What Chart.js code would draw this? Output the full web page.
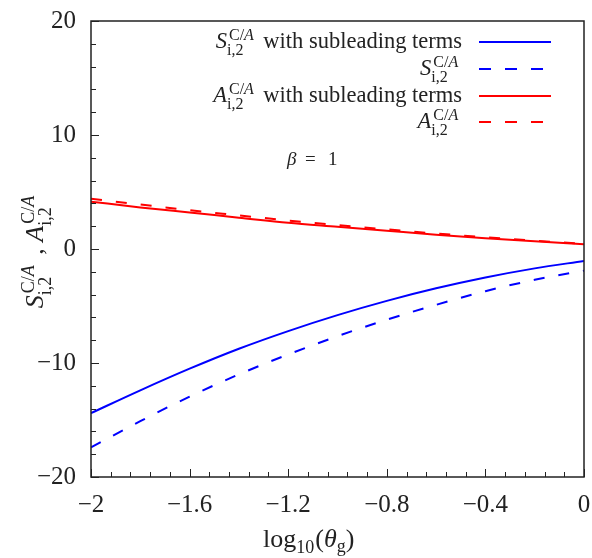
<!DOCTYPE html>
<html><head><meta charset="utf-8">
<script src="https://cdn.jsdelivr.net/npm/chart.js@4.4.0/dist/chart.umd.min.js"></script>
<style>html,body{margin:0;padding:0;background:#fff}#wrap{width:592px;height:558px}</style>
</head><body><div id="wrap"><canvas id="c" width="592" height="558"></canvas></div>
<script>
const xVals = [-2, -1.8, -1.6, -1.4, -1.2, -1.0, -0.8, -0.6, -0.4, -0.2, 0];
const sWithSub = [-14.4, -12.4, -10.5, -8.75, -7.2, -5.8, -4.55, -3.45, -2.5, -1.7, -1.05];
const sLead = [-17.4, -15.1, -12.95, -11.0, -9.25, -7.65, -6.2, -4.9, -3.7, -2.7, -1.9];
const aWithSub = [4.15, 3.65, 3.2, 2.75, 2.3, 1.95, 1.6, 1.25, 0.95, 0.68, 0.42];
const aLead = [4.4, 3.9, 3.4, 2.95, 2.5, 2.1, 1.72, 1.36, 1.03, 0.73, 0.45];
const xTicks = [-2, -1.6, -1.2, -0.8, -0.4, 0];
const yTicks = [-20, -10, 0, 10, 20];
const seriesNames = ["S with subleading terms", "S", "A with subleading terms", "A"];

const SERIF = "'Liberation Serif', 'DejaVu Serif', serif";
const toPts = arr => arr.map((v, i) => ({x: xVals[i], y: v}));
const fmt = v => { const r = Math.round(v * 10) / 10; return r < 0 ? '\u2212' + Math.abs(r) : String(r); };

function mathWidth(ctx, base, B, S) {
  ctx.font = 'italic ' + B + 'px ' + SERIF; const bw = ctx.measureText(base).width;
  ctx.font = S + 'px ' + SERIF; const sup = ctx.measureText('C/A').width + 2; const sub = ctx.measureText('i,2').width;
  return bw + Math.max(sup, sub) + 2;
}
function drawMath(ctx, base, x, y, B, S) {
  ctx.textAlign = 'left'; ctx.textBaseline = 'alphabetic';
  ctx.font = 'italic ' + B + 'px ' + SERIF; ctx.fillText(base, x, y);
  const bw = ctx.measureText(base).width;
  const up = Math.round(B * 0.36), down = Math.round(B * 0.31);
  let sx = x + bw + 2;
  ctx.font = S + 'px ' + SERIF; ctx.fillText('C/', sx, y - up);
  const cw = ctx.measureText('C/').width;
  ctx.font = 'italic ' + S + 'px ' + SERIF; ctx.fillText('A', sx + cw, y - up);
  ctx.font = S + 'px ' + SERIF; ctx.fillText('i,2', x + bw, y + down);
}

const decor = {
  id: 'decor',
  afterDraw(chart) {
    const ctx = chart.ctx, xs = chart.scales.x, ys = chart.scales.y, ca = chart.chartArea;
    ctx.save();
    ctx.strokeStyle = '#222'; ctx.lineWidth = 1.5;
    ctx.strokeRect(ca.left, ca.top, ca.right - ca.left, ca.bottom - ca.top);
    ctx.lineWidth = 1;
    ctx.beginPath();
    for (let i = 0; i <= 25; i++) {
      const v = -2 + i * 0.08; const px = Math.round(xs.getPixelForValue(v)) + 0.5;
      const major = i % 5 === 0; const L = major ? 8 : 5;
      ctx.moveTo(px, ca.bottom); ctx.lineTo(px, ca.bottom - L);
    }
    for (let v = -20; v <= 20; v += 2) {
      const py = Math.round(ys.getPixelForValue(v)) + 0.5;
      const major = v % 10 === 0; const L = major ? 8 : 5;
      ctx.moveTo(ca.left, py); ctx.lineTo(ca.left + L, py);
    }
    ctx.stroke();

    // legend
    const B = 22.5, S = 16;
    const rightX = 462;
    const rows = [
      {base: 'S', extra: true, y: 48, ly: 42, color: '#0000ff', dash: []},
      {base: 'S', extra: false, y: 75, ly: 69, color: '#0000ff', dash: [12, 14]},
      {base: 'A', extra: true, y: 102, ly: 96, color: '#ff0000', dash: []},
      {base: 'A', extra: false, y: 128, ly: 122, color: '#ff0000', dash: [12, 14]}
    ];
    rows.forEach(r => {
      let w = mathWidth(ctx, r.base, B, S);
      const extraTxt = ' with subleading terms';
      let ew = 0;
      if (r.extra) { ctx.font = B + 'px ' + SERIF; ew = ctx.measureText(extraTxt).width; }
      const x0 = rightX - w - ew;
      ctx.fillStyle = '#222';
      drawMath(ctx, r.base, x0, r.y, B, S);
      if (r.extra) { ctx.font = B + 'px ' + SERIF; ctx.textAlign = 'left'; ctx.fillText(extraTxt, x0 + w, r.y); }
      ctx.strokeStyle = r.color; ctx.lineWidth = 2; ctx.setLineDash(r.dash);
      ctx.beginPath(); ctx.moveTo(479, r.ly); ctx.lineTo(551, r.ly); ctx.stroke();
      ctx.setLineDash([]);
    });

    // beta = 1
    ctx.fillStyle = '#222';
    ctx.font = 'italic 19px ' + SERIF; ctx.textAlign = 'left';
    ctx.fillText('\u03B2', 287, 165);
    ctx.font = '19px ' + SERIF; ctx.fillText('=', 305, 165); ctx.fillText('1', 328, 165);

    // x title
    ctx.font = '26px ' + SERIF;
    let tx = 263, ty = 547;
    ctx.fillText('log', tx, ty); tx += ctx.measureText('log').width;
    ctx.font = '18px ' + SERIF; ctx.fillText('10', tx, ty + 6); tx += ctx.measureText('10').width + 1;
    ctx.font = '26px ' + SERIF; ctx.fillText('(', tx, ty); tx += ctx.measureText('(').width;
    ctx.font = 'italic 26px ' + SERIF; ctx.fillText('\u03B8', tx, ty); tx += ctx.measureText('\u03B8').width;
    ctx.font = '18px ' + SERIF; ctx.fillText('g', tx, ty + 5); tx += ctx.measureText('g').width;
    ctx.font = '26px ' + SERIF; ctx.fillText(')', tx, ty);

    // y title (rotated)
    const YB = 26, YS = 18;
    ctx.translate(43, 250); ctx.rotate(-Math.PI / 2);
    const w1 = mathWidth(ctx, 'S', YB, YS);
    ctx.font = YB + 'px ' + SERIF; const cw = ctx.measureText(' , ').width;
    const w2 = mathWidth(ctx, 'A', YB, YS);
    const total = w1 + cw + w2;
    let yx = -total / 2;
    drawMath(ctx, 'S', yx, 0, YB, YS); yx += w1;
    ctx.font = YB + 'px ' + SERIF; ctx.textAlign = 'left'; ctx.fillText(' , ', yx, 0); yx += cw;
    drawMath(ctx, 'A', yx, 0, YB, YS);
    ctx.restore();
  }
};

new Chart(document.getElementById('c'), {
  type: 'line',
  data: {
    datasets: [
      {label: seriesNames[0], data: toPts(sWithSub), borderColor: '#0000ff', borderWidth: 2, pointRadius: 0, cubicInterpolationMode: 'monotone', fill: false},
      {label: seriesNames[1], data: toPts(sLead), borderColor: '#0000ff', borderWidth: 2, borderDash: [11, 14], pointRadius: 0, cubicInterpolationMode: 'monotone', fill: false},
      {label: seriesNames[2], data: toPts(aWithSub), borderColor: '#ff0000', borderWidth: 2, pointRadius: 0, cubicInterpolationMode: 'monotone', fill: false},
      {label: seriesNames[3], data: toPts(aLead), borderColor: '#ff0000', borderWidth: 2, borderDash: [11, 14], pointRadius: 0, cubicInterpolationMode: 'monotone', fill: false}
    ]
  },
  options: {
    responsive: false, animation: false, devicePixelRatio: 1,
    layout: {padding: {top: 21, right: 8, left: 0, bottom: 0}},
    plugins: {legend: {display: false}, tooltip: {enabled: false}},
    scales: {
      x: {
        type: 'linear', min: -2, max: 0,
        afterBuildTicks: s => { s.ticks = xTicks.map(v => ({value: v})); },
        afterFit: s => { s.height = 81; s.paddingLeft = 0; s.paddingRight = 0; },
        grid: {display: false, drawTicks: false}, border: {display: false},
        ticks: {color: '#222', font: {family: SERIF, size: 25}, padding: 13, maxRotation: 0, callback: v => fmt(v)}
      },
      y: {
        type: 'linear', min: -20, max: 20,
        afterBuildTicks: s => { s.ticks = yTicks.map(v => ({value: v})); },
        afterFit: s => { s.width = 91; s.paddingTop = 0; s.paddingBottom = 0; },
        grid: {display: false, drawTicks: false}, border: {display: false},
        ticks: {color: '#222', font: {family: SERIF, size: 25}, padding: 15, callback: v => fmt(v)}
      }
    }
  },
  plugins: [decor]
});
</script></body></html>
